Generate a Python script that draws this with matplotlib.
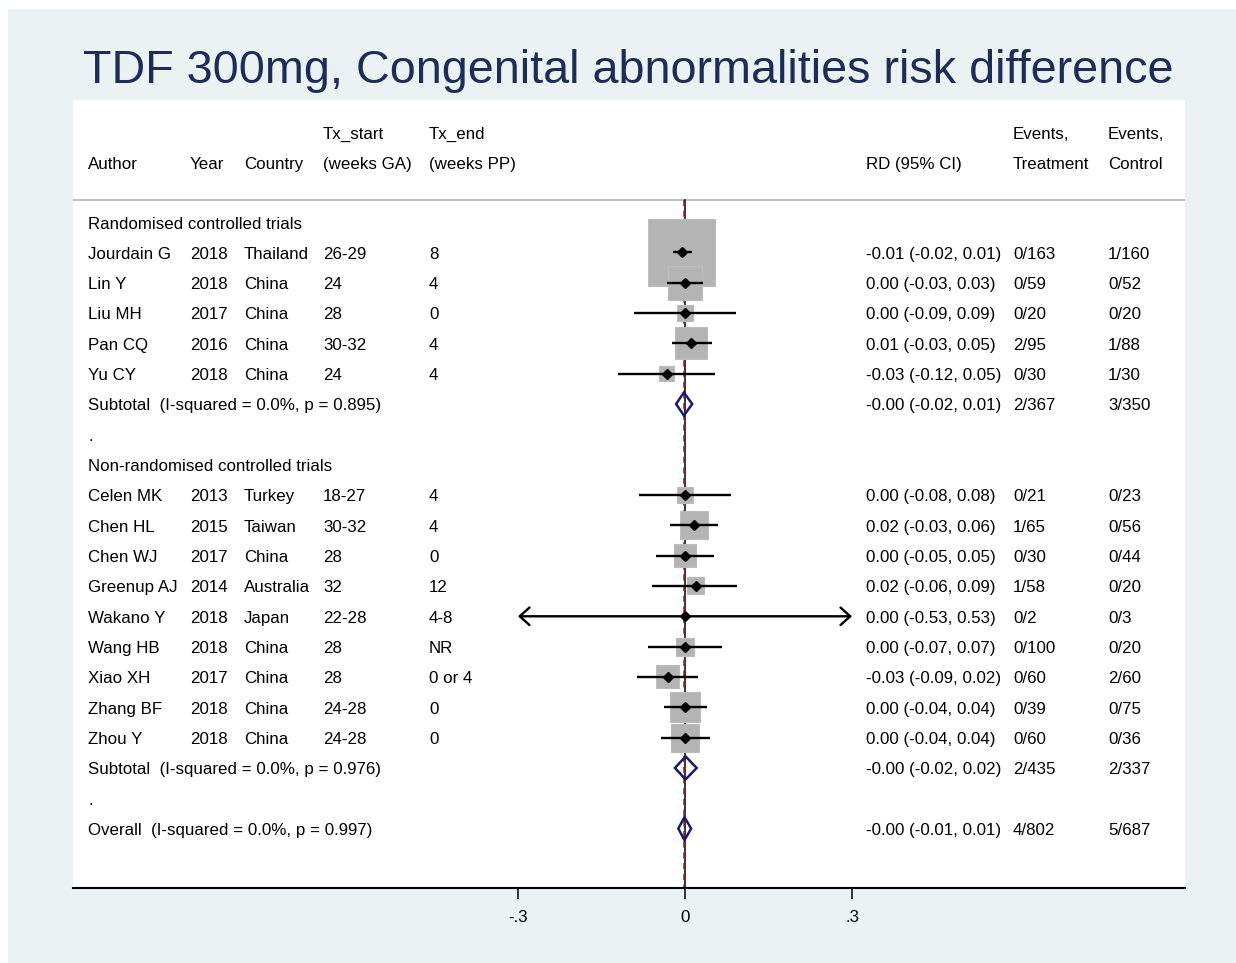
import numpy as np
import matplotlib.pyplot as plt
from matplotlib.patches import Rectangle, Polygon

plt.rcParams['font.family'] = ['Liberation Sans', 'DejaVu Sans']

W, H = 1236, 963

# study level data
author = ["Jourdain G", "Lin Y", "Liu MH", "Pan CQ", "Yu CY",
          "Celen MK", "Chen HL", "Chen WJ", "Greenup AJ", "Wakano Y",
          "Wang HB", "Xiao XH", "Zhang BF", "Zhou Y"]
year = ["2018", "2018", "2017", "2016", "2018",
        "2013", "2015", "2017", "2014", "2018", "2018", "2017", "2018", "2018"]
country = ["Thailand", "China", "China", "China", "China",
           "Turkey", "Taiwan", "China", "Australia", "Japan", "China", "China", "China", "China"]
tx_start = ["26-29", "24", "28", "30-32", "24",
            "18-27", "30-32", "28", "32", "22-28", "28", "28", "24-28", "24-28"]
tx_end = ["8", "4", "0", "4", "4",
          "4", "4", "0", "12", "4-8", "NR", "0 or 4", "0", "0"]
rd = [-0.006, 0.0, 0.0, 0.011, -0.033,
      0.0, 0.016, 0.0, 0.019, 0.0, 0.0, -0.031, 0.0, 0.0]
ci_lo = [-0.022, -0.033, -0.092, -0.024, -0.120,
         -0.083, -0.027, -0.052, -0.059, -0.53, -0.066, -0.086, -0.038, -0.043]
ci_hi = [0.013, 0.033, 0.092, 0.048, 0.054,
         0.083, 0.060, 0.052, 0.093, 0.53, 0.066, 0.023, 0.040, 0.045]
rd_text = ["-0.01 (-0.02, 0.01)", "0.00 (-0.03, 0.03)", "0.00 (-0.09, 0.09)",
           "0.01 (-0.03, 0.05)", "-0.03 (-0.12, 0.05)",
           "0.00 (-0.08, 0.08)", "0.02 (-0.03, 0.06)", "0.00 (-0.05, 0.05)",
           "0.02 (-0.06, 0.09)", "0.00 (-0.53, 0.53)", "0.00 (-0.07, 0.07)",
           "-0.03 (-0.09, 0.02)", "0.00 (-0.04, 0.04)", "0.00 (-0.04, 0.04)"]
ev_treat = ["0/163", "0/59", "0/20", "2/95", "0/30",
            "0/21", "1/65", "0/30", "1/58", "0/2", "0/100", "0/60", "0/39", "0/60"]
ev_ctrl = ["1/160", "0/52", "0/20", "1/88", "1/30",
           "0/23", "0/56", "0/44", "0/20", "0/3", "0/20", "2/60", "0/75", "0/36"]
weight = [39.1, 10.1, 2.0, 8.9, 2.0,
          2.0, 6.8, 4.6, 2.5, 0.03, 2.8, 4.6, 7.8, 6.8]
group = [0, 0, 0, 0, 0, 1, 1, 1, 1, 1, 1, 1, 1, 1]

group_name = ["Randomised controlled trials", "Non-randomised controlled trials"]
sub_label = ["Subtotal  (I-squared = 0.0%, p = 0.895)",
             "Subtotal  (I-squared = 0.0%, p = 0.976)"]
sub_rd = [-0.002, 0.001]
sub_lo = [-0.016, -0.018]
sub_hi = [0.013, 0.021]
sub_text = ["-0.00 (-0.02, 0.01)", "-0.00 (-0.02, 0.02)"]
sub_evt = ["2/367", "2/435"]
sub_evc = ["3/350", "2/337"]

overall_label = "Overall  (I-squared = 0.0%, p = 0.997)"
overall_rd, overall_lo, overall_hi = -0.001, -0.012, 0.011
overall_text = "-0.00 (-0.01, 0.01)"
overall_evt, overall_evc = "4/802", "5/687"

ticks = [-0.3, 0, 0.3]
tick_labels = ["-.3", "0", ".3"]

# layout (pixels)
X0 = 685.0
PPU = 556.7
def px2x(px):
    return (px - X0) / PPU

col_author, col_year, col_country = 88, 190, 244
col_start, col_end = 323, 429
col_rd, col_evt, col_evc = 866, 1013, 1108
ROW0, ROWH = 222.0, 30.33
navy = "#1a1a6e"
fs = 12.2

fig = plt.figure(figsize=(W / 100, H / 100), dpi=100, facecolor="white")
bg = Rectangle((8 / W, 0), 1, 1 - 9 / H, transform=fig.transFigure,
               facecolor="#eaf2f3", edgecolor="none", zorder=-10)
fig.add_artist(bg)
fig.text(628 / W, 1 - 71 / H, "TDF 300mg, Congenital abnormalities risk difference",
         ha="center", va="center", fontsize=33.7, color="#1e2d55")

ax = fig.add_axes([73 / W, 1 - 888 / H, (1185 - 73) / W, (888 - 100) / H])
ax.set_zorder(1)
ax.set_facecolor("white")
ax.set_xlim(px2x(73), px2x(1185))
ax.set_ylim(888, 100)
for s in ["top", "left", "right"]:
    ax.spines[s].set_visible(False)
ax.spines["bottom"].set_linewidth(1.5)
ax.set_yticks([])
ax.set_xticks(ticks)
ax.set_xticklabels(tick_labels, fontsize=fs)
ax.tick_params(axis="x", length=8, width=1.1, pad=8)

# text rows sit a touch lower than the bbox centre
def put(px, y, s):
    ax.text(px2x(px), y + 2, s, ha="left", va="center", fontsize=fs)

put(col_author, 162, "Author")
put(col_year, 162, "Year")
put(col_country, 162, "Country")
put(col_start, 132, "Tx_start")
put(col_start, 162, "(weeks GA)")
put(col_end, 132, "Tx_end")
put(col_end, 162, "(weeks PP)")
put(col_rd, 162, "RD (95% CI)")
put(col_evt, 132, "Events,")
put(col_evt, 162, "Treatment")
put(col_evc, 132, "Events,")
put(col_evc, 162, "Control")
ax.plot([px2x(73), px2x(1185)], [200, 200], color="#c0c0c0", lw=1.5, zorder=1)

# reference lines
ax.plot([0, 0], [200, 888], color="black", lw=1.1, zorder=1)
ax.plot([overall_rd, overall_rd], [200, 888], color="#8b2020", lw=1.1,
        ls=(0, (4, 3)), zorder=1)

def diamond(y, c, lo, hi):
    ax.add_patch(Polygon([(lo, y), (c, y - 11.5), (hi, y), (c, y + 11.5)],
                         closed=True, fill=False, edgecolor=navy, lw=1.8, zorder=4))

wmax = max(weight)
row = 0
for g in range(2):
    y = ROW0 + ROWH * row
    put(col_author, y, group_name[g])
    row += 1
    for i in [k for k in range(len(author)) if group[k] == g]:
        y = ROW0 + ROWH * row
        put(col_author, y, author[i])
        put(col_year, y, year[i])
        put(col_country, y, country[i])
        put(col_start, y, tx_start[i])
        put(col_end, y, tx_end[i])
        put(col_rd, y, rd_text[i])
        put(col_evt, y, ev_treat[i])
        put(col_evc, y, ev_ctrl[i])
        side = 67 * np.sqrt(weight[i] / wmax)
        ax.add_patch(Rectangle((rd[i] - side / 2 / PPU, y - side / 2), side / PPU, side,
                               facecolor="#b4b4b4", edgecolor="#bcbcbc", lw=0.8, zorder=2))
        lo, hi = ci_lo[i], ci_hi[i]
        if lo < ticks[0] or hi > ticks[-1]:
            ax.annotate("", xy=(max(lo, ticks[0]), y), xytext=(min(hi, ticks[-1]), y),
                        arrowprops=dict(arrowstyle="<->,head_length=0.5,head_width=0.45",
                                        lw=1.7, color="black", shrinkA=0, shrinkB=0,
                                        mutation_scale=14), zorder=3)
        else:
            ax.plot([lo, hi], [y, y], color="black", lw=1.7, solid_capstyle="butt", zorder=3)
        ax.plot(rd[i], y, marker="D", ms=4.8, color="black", zorder=3)
        row += 1
    y = ROW0 + ROWH * row
    put(col_author, y, sub_label[g])
    put(col_rd, y, sub_text[g])
    put(col_evt, y, sub_evt[g])
    put(col_evc, y, sub_evc[g])
    diamond(y, sub_rd[g], sub_lo[g], sub_hi[g])
    row += 1
    put(col_author, ROW0 + ROWH * row, ".")
    row += 1

y = ROW0 + ROWH * row
put(col_author, y, overall_label)
put(col_rd, y, overall_text)
put(col_evt, y, overall_evt)
put(col_evc, y, overall_evc)
diamond(y, overall_rd, overall_lo, overall_hi)

fig.savefig("out.png", dpi=100, facecolor=fig.get_facecolor())
